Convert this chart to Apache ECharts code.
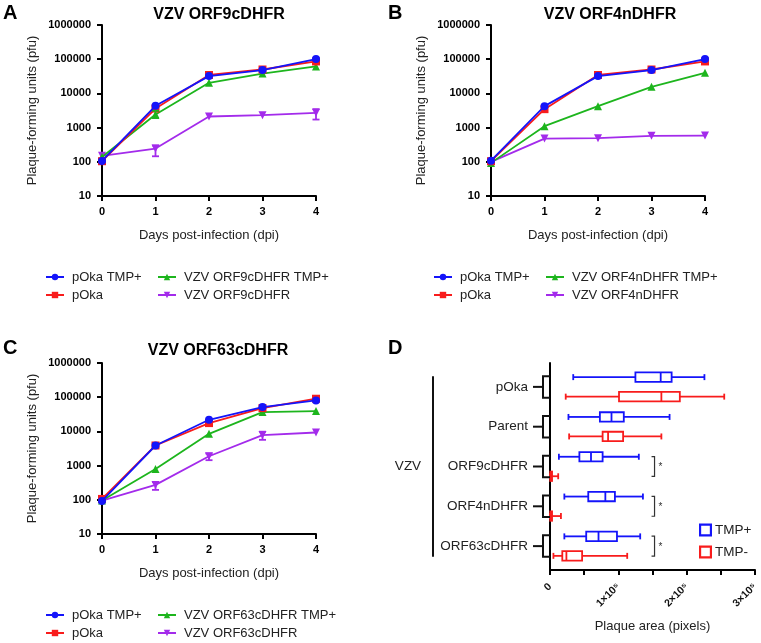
<!DOCTYPE html>
<html><head><meta charset="utf-8">
<script src="https://cdn.jsdelivr.net/npm/echarts@6/dist/echarts.min.js"></script>
<style>html,body{margin:0;padding:0;background:#fff}#c{width:761px;height:643px}</style>
</head><body><div id="c"></div>
<script>
// ---------- DATA ----------
const days = [0, 1, 2, 3, 4];
const xTicks = [0, 1, 2, 3, 4];
const yTicks = [10, 100, 1000, 10000, 100000, 1000000];

// Panel A: VZV ORF9cDHFR
const aPokaTmp = [106, 4330, 32000, 48000, 101000];
const aPoka    = [104, 3620, 34500, 50000, 86000];
const aMutTmp  = [138, 2415, 20400, 38000, 61500];
const aMut     = [150, 244, 2110, 2310, 2700];
const aErrMutTmp = [[1, 1900, 3100]];
const aErrMut    = [[1, 145, 299], [4, 1720, 3460]];

// Panel B: VZV ORF4nDHFR
const bPokaTmp = [108, 4240, 32000, 48000, 101000];
const bPoka    = [104, 3460, 34500, 50000, 86000];
const bMutTmp  = [93, 1100, 4240, 15600, 40100];
const bMut     = [99, 478, 490, 573, 586];

// Panel C: VZV ORF63cDHFR
const cPokaTmp = [93, 3870, 21900, 51400, 80600];
const cPoka    = [106, 3870, 17500, 48000, 90200];
const cMutTmp  = [95, 800, 8500, 36700, 39300];
const cMut     = [95, 273, 1880, 7800, 9300];
const cErrMut  = [[1, 195, 331], [2, 1440, 2250], [3, 5670, 9800]];

// Panel D: plaque area box plots [min, Q1, median, Q3, max]
const groups = ['pOka', 'Parent', 'ORF9cDHFR', 'ORF4nDHFR', 'ORF63cDHFR'];
const outerGroup = 'VZV';
const boxTmpPlus = [
  [34000, 125000, 162000, 178000, 226000],
  [27000, 73000, 90000, 108000, 175000],
  [13000, 43000, 60000, 77000, 130000],
  [21000, 56000, 81000, 95000, 136000],
  [21000, 53000, 71000, 98000, 132000]
];
const boxTmpMinus = [
  [23000, 101000, 163000, 190000, 255000],
  [28000, 77000, 85000, 107000, 163000],
  [0, 500, 1000, 3000, 12000],
  [0, 500, 1000, 3000, 16000],
  [5000, 18000, 24000, 47000, 113000]
];
const sigGroups = [2, 3, 4];
const dTicks = [0, 100000, 200000, 300000];

// ---------- STYLE ----------
const FONT = 'Liberation Sans, Arial, Helvetica, sans-serif';
const C_BLUE = '#1414FA', C_RED = '#F81C1C', C_GREEN = '#1DB51D', C_PURPLE = '#A32BEB';
const DOWN_TRI = 'path://M0,0 L10,0 L5,9 Z';

function lineX(gi) {
  return {
    gridIndex: gi, type: 'value', min: 0, max: 4, interval: 1,
    name: 'Days post-infection (dpi)', nameLocation: 'middle', nameGap: 33,
    nameTextStyle: { fontSize: 13, color: '#222', fontFamily: FONT },
    axisLine: { onZero: false, lineStyle: { color: '#000', width: 2 } },
    axisTick: { length: 5, lineStyle: { color: '#000', width: 2 } },
    axisLabel: { fontSize: 11, fontWeight: 'bold', color: '#000', margin: 10, fontFamily: FONT },
    splitLine: { show: false }
  };
}
function lineY(gi) {
  return {
    gridIndex: gi, type: 'log', logBase: 10, min: yTicks[0], max: yTicks[yTicks.length - 1],
    name: 'Plaque-forming units (pfu)', nameLocation: 'middle', nameGap: 63, nameRotate: 90,
    nameTextStyle: { fontSize: 13, color: '#222', fontFamily: FONT },
    axisLine: { onZero: false, lineStyle: { color: '#000', width: 2 } },
    axisTick: { length: 5, lineStyle: { color: '#000', width: 2 } },
    axisLabel: { fontSize: 11, fontWeight: 'bold', color: '#000', margin: 11, fontFamily: FONT,
      formatter: v => String(Math.round(v)) },
    splitLine: { show: false }, minorTick: { show: false }
  };
}
function lineSeries(gi, name, vals, color, symbol, size, z) {
  return {
    type: 'line', xAxisIndex: gi, yAxisIndex: gi, name: name,
    data: days.map((d, i) => [d, vals[i]]),
    symbol: symbol, symbolSize: size, showSymbol: true,
    lineStyle: { width: 1.8, color: color }, itemStyle: { color: color },
    z: z, animation: false
  };
}
function errRender(params, api) {
  const x = api.value(0), lo = api.value(1), hi = api.value(2);
  const p1 = api.coord([x, lo]), p2 = api.coord([x, hi]);
  const w = 3.5;
  const st = { stroke: api.visual('color'), lineWidth: 1.8 };
  return { type: 'group', children: [
    { type: 'line', shape: { x1: p1[0], y1: p1[1], x2: p2[0], y2: p2[1] }, style: st },
    { type: 'line', shape: { x1: p1[0] - w, y1: p1[1], x2: p1[0] + w, y2: p1[1] }, style: st },
    { type: 'line', shape: { x1: p2[0] - w, y1: p2[1], x2: p2[0] + w, y2: p2[1] }, style: st }
  ]};
}
function errSeries(gi, name, data, color) {
  return { type: 'custom', name: name, xAxisIndex: gi, yAxisIndex: gi, data: data,
    encode: { x: 0, y: [1, 2] }, renderItem: errRender, itemStyle: { color: color }, z: 5, animation: false };
}
function legendCol(left, top, names) {
  return {
    left: left, top: top, orient: 'vertical', padding: 0, itemGap: 4, itemWidth: 18, itemHeight: 8,
    data: names, selectedMode: false,
    textStyle: { fontSize: 13, color: '#222', fontFamily: FONT, padding: [0, 0, 0, 3], lineHeight: 14 }
  };
}

function boxRender(sign) {
  return function (params, api) {
    const g = api.value(0);
    const band = api.size([0, 1])[1];
    const yc = api.coord([0, g])[1] + sign * band * 0.245;
    const hh = band * 0.118, ch = band * 0.075;
    const xs = [1, 2, 3, 4, 5].map(i => api.coord([api.value(i), g])[0]);
    const c = api.visual('color');
    const st = { stroke: c, lineWidth: 1.8, fill: 'none' };
    return { type: 'group', children: [
      { type: 'line', shape: { x1: xs[0], y1: yc, x2: xs[1], y2: yc }, style: st },
      { type: 'line', shape: { x1: xs[3], y1: yc, x2: xs[4], y2: yc }, style: st },
      { type: 'rect', shape: { x: xs[1], y: yc - hh, width: xs[3] - xs[1], height: 2 * hh }, style: st },
      { type: 'line', shape: { x1: xs[2], y1: yc - hh, x2: xs[2], y2: yc + hh }, style: st },
      { type: 'line', shape: { x1: xs[0], y1: yc - ch, x2: xs[0], y2: yc + ch }, style: st },
      { type: 'line', shape: { x1: xs[4], y1: yc - ch, x2: xs[4], y2: yc + ch }, style: st }
    ]};
  };
}
function groupRender(params, api) {
  const g = api.value(0);
  const band = api.size([0, 1])[1];
  const p = api.coord([0, g]);
  const ax = p[0], yc = p[1], t = band * 0.27;
  const st = { stroke: '#111', lineWidth: 2, fill: 'none' };
  return { type: 'group', children: [
    { type: 'polyline', shape: { points: [[ax, yc - t], [ax - 7, yc - t], [ax - 7, yc + t], [ax, yc + t]] }, style: st },
    { type: 'line', shape: { x1: ax - 7, y1: yc, x2: ax - 17, y2: yc }, style: st }
  ]};
}
function vzvRender(params, api) {
  const band = api.size([0, 1])[1];
  const p0 = api.coord([0, 0]), p4 = api.coord([0, groups.length - 1]);
  const x = p0[0] - 117;
  return { type: 'group', children: [
    { type: 'line', shape: { x1: x, y1: p0[1] - band * 0.27, x2: x, y2: p4[1] + band * 0.27 },
      style: { stroke: '#111', lineWidth: 2 } },
    { type: 'text', x: x - 25, y: (p0[1] + p4[1]) / 2,
      style: { text: outerGroup, align: 'center', verticalAlign: 'middle', font: '13.5px ' + FONT, fill: '#222' } }
  ]};
}
const SIG_X = 153000;
function sigRender(params, api) {
  const g = api.value(0);
  const band = api.size([0, 1])[1];
  const p = api.coord([SIG_X, g]);
  const t = band * 0.25;
  const st = { stroke: '#333', lineWidth: 1.2, fill: 'none' };
  return { type: 'group', children: [
    { type: 'polyline', shape: { points: [[p[0] - 3, p[1] - t], [p[0], p[1] - t], [p[0], p[1] + t], [p[0] - 3, p[1] + t]] }, style: st },
    { type: 'text', x: p[0] + 6, y: p[1] + 1, style: { text: '*', align: 'center', verticalAlign: 'middle', font: '10px ' + FONT, fill: '#333' } }
  ]};
}

const panels = [
  { pt: aPokaTmp, p: aPoka, mt: aMutTmp, m: aMut, mutName: 'VZV ORF9cDHFR', errMT: aErrMutTmp, errM: aErrMut },
  { pt: bPokaTmp, p: bPoka, mt: bMutTmp, m: bMut, mutName: 'VZV ORF4nDHFR', errMT: [], errM: [] },
  { pt: cPokaTmp, p: cPoka, mt: cMutTmp, m: cMut, mutName: 'VZV ORF63cDHFR', errMT: [], errM: cErrMut }
];

const series = [];
panels.forEach((pn, gi) => {
  series.push(lineSeries(gi, pn.mutName, pn.m, C_PURPLE, DOWN_TRI, 8, 2));
  series.push(lineSeries(gi, pn.mutName + ' TMP+', pn.mt, C_GREEN, 'triangle', 8, 3));
  series.push(lineSeries(gi, 'pOka', pn.p, C_RED, 'rect', 8, 4));
  series.push(lineSeries(gi, 'pOka TMP+', pn.pt, C_BLUE, 'circle', 8, 5));
  if (pn.errMT.length) series.push(errSeries(gi, 'err-mt-' + gi, pn.errMT, C_GREEN));
  if (pn.errM.length) series.push(errSeries(gi, 'err-m-' + gi, pn.errM, C_PURPLE));
});
series.push({ type: 'custom', name: 'TMP+', xAxisIndex: 3, yAxisIndex: 3,
  data: boxTmpPlus.map((b, i) => [i].concat(b)), encode: { x: [1, 2, 3, 4, 5], y: 0 },
  renderItem: boxRender(-1), itemStyle: { color: C_BLUE }, animation: false });
series.push({ type: 'custom', name: 'TMP-', xAxisIndex: 3, yAxisIndex: 3,
  data: boxTmpMinus.map((b, i) => [i].concat(b)), encode: { x: [1, 2, 3, 4, 5], y: 0 },
  renderItem: boxRender(1), itemStyle: { color: C_RED }, animation: false });
series.push({ type: 'custom', name: 'groupTicks', xAxisIndex: 3, yAxisIndex: 3,
  data: groups.map((g, i) => [i, 0]), encode: { x: 1, y: 0 }, renderItem: groupRender, animation: false, silent: true });
series.push({ type: 'custom', name: 'outerGroup', xAxisIndex: 3, yAxisIndex: 3,
  data: [[0, 0]], encode: { x: 1, y: 0 }, renderItem: vzvRender, animation: false, silent: true });
series.push({ type: 'custom', name: 'sig', xAxisIndex: 3, yAxisIndex: 3,
  data: sigGroups.map(g => [g, 0]), encode: { x: 1, y: 0 }, renderItem: sigRender, animation: false, silent: true });

const HOLLOW_SQ = 'path://M0,0 L12,0 L12,12 L0,12 Z M2,2 L2,10 L10,10 L10,2 Z';

const option = {
  animation: false,
  textStyle: { fontFamily: FONT },
  grid: [
    { left: 102, top: 25, width: 214, height: 171 },
    { left: 491, top: 25, width: 214, height: 171 },
    { left: 102, top: 363, width: 214, height: 171 },
    { left: 550, top: 363, width: 208, height: 207 }
  ],
  xAxis: [lineX(0), lineX(1), lineX(2), {
    gridIndex: 3, type: 'value', min: dTicks[0], max: dTicks[dTicks.length - 1], interval: dTicks[1] - dTicks[0],
    name: 'Plaque area (pixels)', nameLocation: 'middle', nameGap: 50,
    nameTextStyle: { fontSize: 13, color: '#222', fontFamily: FONT },
    axisLine: { onZero: false, lineStyle: { color: '#000', width: 2 } },
    axisTick: { length: 5, lineStyle: { color: '#000', width: 2 } },
    minorTick: { show: true, splitNumber: 2, length: 5, lineStyle: { color: '#000', width: 2 } },
    axisLabel: { rotate: 45, fontSize: 10.5, fontWeight: 'bold', color: '#111', margin: 15, fontFamily: FONT,
      formatter: v => v === 0 ? '0' : (v / 100000) + '×10⁵' },
    splitLine: { show: false }
  }],
  yAxis: [lineY(0), lineY(1), lineY(2), {
    gridIndex: 3, type: 'value', min: -0.6, max: 4.6, inverse: true,
    axisLine: { onZero: false, lineStyle: { color: '#000', width: 2 } },
    axisTick: { show: false },
    axisLabel: { customValues: [0, 1, 2, 3, 4], formatter: v => groups[Math.round(v)] || '',
      fontSize: 13.5, color: '#222', margin: 22, fontFamily: FONT },
    splitLine: { show: false }
  }],
  legend: [
    legendCol(45, 270, ['pOka TMP+', 'pOka']),
    legendCol(157, 270, ['VZV ORF9cDHFR TMP+', 'VZV ORF9cDHFR']),
    legendCol(433, 270, ['pOka TMP+', 'pOka']),
    legendCol(545, 270, ['VZV ORF4nDHFR TMP+', 'VZV ORF4nDHFR']),
    legendCol(45, 608, ['pOka TMP+', 'pOka']),
    legendCol(157, 608, ['VZV ORF63cDHFR TMP+', 'VZV ORF63cDHFR']),
    { left: 699, top: 523, orient: 'vertical', padding: 0, itemGap: 8, itemWidth: 13, itemHeight: 13,
      icon: HOLLOW_SQ, data: ['TMP+', 'TMP-'], selectedMode: false,
      textStyle: { fontSize: 13.5, color: '#222', fontFamily: FONT, padding: [0, 0, 0, -2] } }
  ],
  graphic: [
    { type: 'text', left: 3, top: 3, style: { text: 'A', font: 'bold 20px ' + FONT, fill: '#000' } },
    { type: 'text', left: 388, top: 3, style: { text: 'B', font: 'bold 20px ' + FONT, fill: '#000' } },
    { type: 'text', left: 3, top: 338, style: { text: 'C', font: 'bold 20px ' + FONT, fill: '#000' } },
    { type: 'text', left: 388, top: 338, style: { text: 'D', font: 'bold 20px ' + FONT, fill: '#000' } },
    { type: 'text', x: 219, y: 15, style: { text: 'VZV ORF9cDHFR', align: 'center', verticalAlign: 'middle', font: 'bold 16px ' + FONT, fill: '#000' } },
    { type: 'text', x: 610, y: 15, style: { text: 'VZV ORF4nDHFR', align: 'center', verticalAlign: 'middle', font: 'bold 16px ' + FONT, fill: '#000' } },
    { type: 'text', x: 218, y: 351, style: { text: 'VZV ORF63cDHFR', align: 'center', verticalAlign: 'middle', font: 'bold 16px ' + FONT, fill: '#000' } }
  ],
  series: series
};
const chart = echarts.init(document.getElementById('c'), null, { renderer: 'canvas' });
chart.setOption(option);
</script>
</body></html>
